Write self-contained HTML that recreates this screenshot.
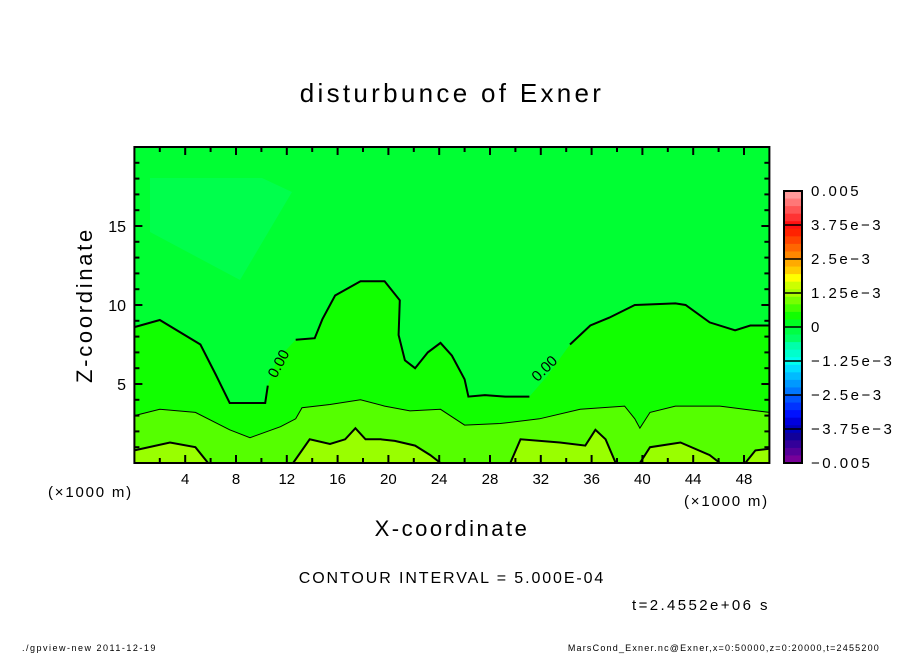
<!DOCTYPE html>
<html><head><meta charset="utf-8"><style>
body{margin:0;background:#fff;}
svg text{font-family:"Liberation Sans",sans-serif;fill:#000;}
</style></head><body>
<svg id="c" width="904" height="654" xmlns="http://www.w3.org/2000/svg">
<rect width="904" height="654" fill="#fff"/>
<g id="plot"></g>
<g id="axes"></g>
<g id="cbar"></g>
<text x="452" y="102" font-size="26" letter-spacing="3.3" text-anchor="middle">disturbunce of Exner</text>
<text transform="translate(92,305) rotate(-90)" font-size="22" letter-spacing="2.7" text-anchor="middle">Z-coordinate</text>
<text x="452" y="536" font-size="22" letter-spacing="2.5" text-anchor="middle">X-coordinate</text>
<text x="48" y="497" font-size="15" letter-spacing="1.8">(×1000 m)</text>
<text x="684" y="506" font-size="15" letter-spacing="1.8">(×1000 m)</text>
<text x="452" y="583" font-size="16" letter-spacing="1.9" text-anchor="middle">CONTOUR INTERVAL = 5.000E-04</text>
<text x="632" y="610" font-size="15" letter-spacing="2.4">t=2.4552e+06 s</text>
<text x="22" y="651" font-size="9" letter-spacing="1.5">./gpview-new   2011-12-19</text>
<text x="880" y="651" font-size="9" letter-spacing="1.2" text-anchor="end">MarsCond_Exner.nc@Exner,x=0:50000,z=0:20000,t=2455200</text>
</svg>
<script>
const xTicks=[4,8,12,16,20,24,28,32,36,40,44,48];
const zTicks=[5,10,15];
const cbarLabels=["0.005","3.75e-3","2.5e-3","1.25e-3","0","-1.25e-3","-2.5e-3","-3.75e-3","-0.005"];
const cbarColors=["#ff9999","#ff7777","#ff5555","#ff3333","#ff1111","#ff2200","#ff4400","#ff6600","#ff8800","#ffaa00","#ffcc00","#ffff00","#ccff00","#aaff00","#77ff00","#44ff00","#11ff00","#00ff22","#00ff44","#00ff66","#00ffaa","#00ffcc","#00ffee","#00ddff","#00bbff","#0099ff","#0077ff","#0055ff","#0033ff","#0011ff","#0000dd","#0000bb","#110099","#330099","#550099","#770099"];
const c0X=[0,2,5.2,6.4,7.5,10.3,10.5,11.2,12.7,14.2,14.8,15.8,17.8,19.7,20.9,20.8,21.3,22.1,23.1,24.1,25.0,26.0,26.3,27.6,29.2,31.1,32.5,34.3,35.9,37.4,39.4,42.6,43.4,45.3,47.3,48.5,50];
const c0Z=[8.6,9.05,7.5,5.6,3.8,3.8,4.9,6.5,7.8,7.9,9.1,10.6,11.5,11.5,10.3,8.1,6.5,6.0,7.0,7.6,6.8,5.3,4.2,4.3,4.2,4.2,5.5,7.5,8.7,9.2,10.0,10.1,10.0,8.9,8.4,8.7,8.7];
const c5X=[0,2,4.8,7.5,9.1,11.5,12.7,13.2,15.4,17.8,19.7,21.7,24.1,26,28.8,31.9,35.1,38.6,39.4,39.8,40.6,42.6,46.1,50];
const c5Z=[3.0,3.4,3.2,2.1,1.6,2.3,2.8,3.5,3.7,4.0,3.6,3.3,3.4,2.4,2.5,2.8,3.4,3.6,2.8,2.2,3.2,3.6,3.6,3.2];
const c10Segs=[
 {x:[0,2.8,4.8,5.8],z:[0.8,1.3,1.0,0]},
 {x:[12.5,13.8,15.4,16.6,17.4,18.2,19.4,20.5,22.1,23.3,24.1],z:[0,1.5,1.2,1.5,2.2,1.5,1.5,1.4,1.1,0.5,0]},
 {x:[29.6,30.4,33.5,35.5,36.3,37.1,37.9],z:[0,1.5,1.3,1.1,2.1,1.5,0]},
 {x:[39.8,40.6,43,45.3,46.1],z:[0,1.0,1.3,0.5,0]},
 {x:[48.1,48.9,50],z:[0,0.8,0.9]}
];
const NS="http://www.w3.org/2000/svg";
const L=134.4,R=769.4,T=147,B=463;
const sx=x=>L+(x/50)*(R-L), sz=z=>B-(z/20)*(B-T);
function mk(t,a,p){const e=document.createElementNS(NS,t);for(const k in a)e.setAttribute(k,a[k]);p.appendChild(e);return e;}
const plot=document.getElementById('plot'),axes=document.getElementById('axes'),cb=document.getElementById('cbar');
const pts=(X,Z)=>X.map((x,i)=>sx(x).toFixed(1)+','+sz(Z[i]).toFixed(1)).join(' ');
let r=mk('rect',{x:L,y:T,width:R-L,height:B-T,fill:'#00ff33'},plot);

let p=mk('polygon',{points:'150,178 262,178 292,192 240,280 150,232',fill:'#00ff4c'},plot);

p=mk('polygon',{points:pts(c0X,c0Z)+` ${R},${B} ${L},${B}`,fill:'#11ff00'},plot);

p=mk('polygon',{points:pts(c5X,c5Z)+` ${R},${B} ${L},${B}`,fill:'#55ff00'},plot);

c10Segs.forEach(s=>{const q=mk('polygon',{points:pts(s.x,s.z)+` ${sx(s.x[s.x.length-1])},${B} ${sx(s.x[0])},${B}`,fill:'#99ff00'},plot);
});
function line(X,Z,w,name){const l=mk('polyline',{points:pts(X,Z),fill:'none',stroke:'#000','stroke-width':w},plot);
}
line(c0X.slice(0,7),c0Z.slice(0,7),2,'contour-0');
line(c0X.slice(8,26),c0Z.slice(8,26),2,'contour-0');
line(c0X.slice(27),c0Z.slice(27),2,'contour-0');
line(c5X,c5Z,1,'contour-5e-4');
c10Segs.forEach(s=>line(s.x,s.z,2,'contour-1e-3'));
[[283,366,-62],[548,372,-45]].forEach(a=>{const t=mk('text',{x:a[0],y:a[1],'font-size':15,'text-anchor':'middle',transform:`rotate(${a[2]} ${a[0]} ${a[1]})`},plot);t.textContent='0.00';
});
r=mk('rect',{x:L,y:T,width:R-L,height:B-T,fill:'none',stroke:'#000','stroke-width':2},axes);

for(let x=2;x<50;x+=2){const len=x%4===0?8:5;
mk('line',{x1:sx(x),x2:sx(x),y1:B,y2:B-len,stroke:'#000','stroke-width':2},axes);
mk('line',{x1:sx(x),x2:sx(x),y1:T,y2:T+len,stroke:'#000','stroke-width':2},axes);}
for(let z=1;z<20;z++){const len=z%5===0?8:5;
mk('line',{x1:L,x2:L+len,y1:sz(z),y2:sz(z),stroke:'#000','stroke-width':2},axes);
mk('line',{x1:R,x2:R-len,y1:sz(z),y2:sz(z),stroke:'#000','stroke-width':2},axes);}
xTicks.forEach(v=>{const t=mk('text',{x:sx(v),y:484,'font-size':15,'text-anchor':'middle'},axes);t.textContent=v;
});
zTicks.forEach(v=>{const t=mk('text',{x:126,y:sz(v)+6,'font-size':16,'text-anchor':'end'},axes);t.textContent=v;
});
const cT=191,cB=463,cX=784,cW=18,n=cbarColors.length,h=(cB-cT)/n;
cbarColors.forEach((col,i)=>{const q=mk('rect',{x:cX,y:cT+i*h,width:cW,height:h+0.5,fill:col},cb);
});
cbarLabels.forEach((lab,i)=>{const y=cT+i*(cB-cT)/8;
mk('line',{x1:cX,x2:cX+cW,y1:y,y2:y,stroke:'#000','stroke-width':1.5},cb);
const t=mk('text',{x:811,y:y+5,'font-size':15,'letter-spacing':2.5},cb);t.textContent=lab.replace(/-/g,'−');
});
mk('rect',{x:cX,y:cT,width:cW,height:cB-cT,fill:'none',stroke:'#000','stroke-width':2},cb);
</script>
</body></html>
